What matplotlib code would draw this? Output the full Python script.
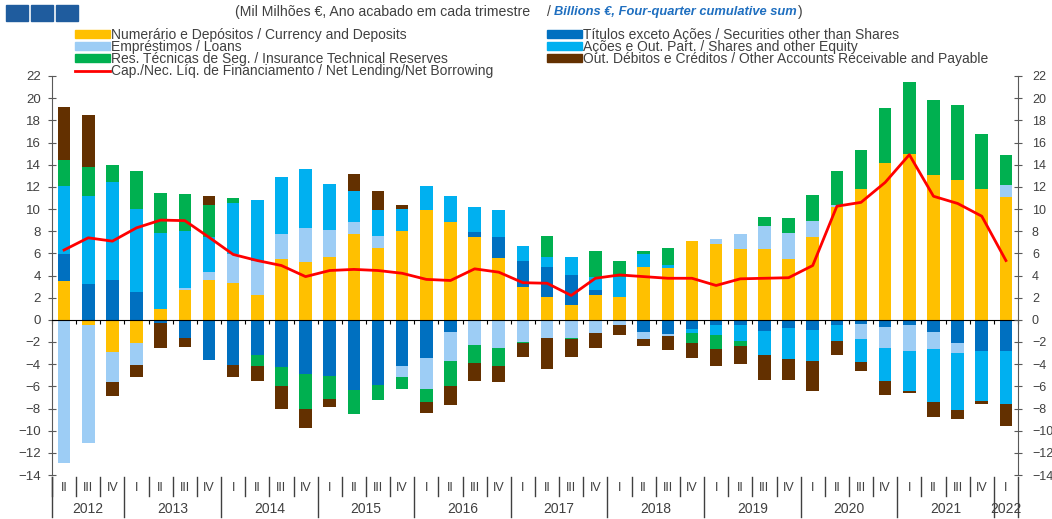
import numpy as np
import matplotlib.pyplot as plt
import matplotlib.transforms as mtransforms
from matplotlib.patches import Rectangle, Patch
from matplotlib.lines import Line2D

plt.rcParams['font.family'] = ['Liberation Sans', 'DejaVu Sans']

# quarters 2012 II .. 2022 I
quarters = ['II', 'III', 'IV'] + ['I', 'II', 'III', 'IV'] * 9 + ['I']
years = ['2012', '2013', '2014', '2015', '2016', '2017', '2018', '2019', '2020', '2021', '2022']

currency = [3.5, -0.45, -2.9, -2.1, 1.0, 2.7, 3.55, 3.3, 2.25, 5.5,
            5.25, 5.7, 7.75, 6.5, 8.05, 9.95, 8.8, 7.45, 5.55, 3.0,
            2.1, 1.3, 2.2, 2.05, 4.75, 4.65, 7.1, 6.8, 6.4, 6.4,
            5.5, 7.45, 10.15, 11.8, 14.15, 15.0, 13.1, 12.6, 11.8, 11.1]
securities = [2.4, 3.2, 3.55, 2.5, -0.25, -1.65, -3.6, -4.1, -3.15, -4.3,
              -4.9, -5.05, -6.3, -5.9, -4.2, -3.45, -1.1, 0.45, 1.9, 2.35,
              2.7, 2.75, 0.5, 0.0, -1.1, -1.3, -0.85, -0.45, -0.45, -1.05,
              -0.7, -0.95, -0.45, -0.4, -0.65, -0.5, -1.1, -2.05, -2.8, -2.8]
loans = [-12.9, -10.7, -2.75, -2.0, 0.0, 0.2, 0.75, 2.6, 3.05, 2.2,
         3.05, 2.45, 1.05, 1.05, -1.0, -2.75, -2.65, -2.3, -2.55, -2.0,
         -1.6, -1.65, -1.2, -0.45, -0.6, -0.15, 0.0, 0.45, 1.3, 2.1,
         2.35, 1.5, 0.25, -1.3, -1.85, -2.35, -1.5, -0.95, -0.05, 1.05]
shares = [6.15, 7.95, 8.9, 7.5, 6.85, 5.1, 3.2, 4.6, 5.55, 5.2,
          5.35, 4.1, 2.8, 2.4, 1.95, 2.1, 2.35, 2.25, 2.45, 1.35,
          0.85, 1.6, 1.15, 1.8, 1.2, 0.3, -0.35, -0.95, -1.5, -2.1,
          -2.8, -2.8, -1.5, -2.1, -3.0, -3.55, -4.85, -5.15, -4.45, -4.8]
insurance = [2.35, 2.65, 1.5, 3.45, 3.6, 3.35, 2.85, 0.5, -1.05, -1.65,
             -3.1, -2.1, -2.2, -1.3, -1.05, -1.2, -2.2, -1.6, -1.65, -0.1,
             1.95, -0.1, 2.4, 1.5, 0.3, 1.5, -0.85, -1.2, -0.4, 0.75,
             1.35, 2.35, 3.0, 3.55, 4.95, 6.45, 6.7, 6.75, 5.0, 2.75]
other = [4.8, 4.65, -1.25, -1.1, -2.25, -0.8, 0.8, -1.1, -1.3, -2.1,
         -1.75, -0.75, 1.55, 1.65, 0.4, -1.0, -1.75, -1.6, -1.45, -1.25,
         -2.8, -1.6, -1.35, -0.9, -0.7, -1.3, -1.35, -1.55, -1.65, -2.25,
         -1.9, -2.65, -1.2, -0.85, -1.3, -0.2, -1.35, -0.8, -0.3, -2.0]
net_lending = [6.3, 7.4, 7.1, 8.3, 9.0, 8.95, 7.45, 5.9, 5.35, 4.9,
               3.9, 4.45, 4.55, 4.45, 4.2, 3.65, 3.55, 4.6, 4.3, 3.35,
               3.3, 2.2, 3.75, 4.05, 3.9, 3.75, 3.75, 3.1, 3.7, 3.75,
               3.8, 4.9, 10.25, 10.6, 12.4, 14.9, 11.15, 10.5, 9.35, 5.35]

labels = {
    'cur': 'Numerário e Depósitos / Currency and Deposits',
    'sec': 'Títulos exceto Ações / Securities other than Shares',
    'loa': 'Empréstimos / Loans',
    'sha': 'Ações e Out. Part. / Shares and other Equity',
    'ins': 'Res. Técnicas de Seg. / Insurance Technical Reserves',
    'oth': 'Out. Débitos e Créditos / Other Accounts Receivable and Payable',
    'net': 'Cap./Nec. Líq. de Financiamento / Net Lending/Net Borrowing',
}
colors = {
    'cur': '#FFC000', 'sec': '#0070C0', 'loa': '#9DCDF5',
    'sha': '#00B0F0', 'ins': '#00B050', 'oth': '#633000', 'net': '#FF0000',
}
text_col = '#404040'
axis_col = '#595959'

fig = plt.figure(figsize=(10.52, 5.19), dpi=100)
ax = fig.add_axes([52 / 1052, 1 - 475 / 519, 966 / 1052, 399 / 519])

x = np.arange(len(quarters))
width = 0.52
pos_base = np.zeros(len(x))
neg_base = np.zeros(len(x))
stack = [('cur', currency), ('sec', securities), ('loa', loans),
         ('sha', shares), ('ins', insurance), ('oth', other)]
for key, vals in stack:
    v = np.array(vals)
    pos = np.where(v > 0, v, 0)
    neg = np.where(v < 0, v, 0)
    ax.bar(x, pos, width, bottom=pos_base, color=colors[key], linewidth=0)
    ax.bar(x, neg, width, bottom=neg_base, color=colors[key], linewidth=0)
    pos_base += pos
    neg_base += neg

ax.plot(x, net_lending, color=colors['net'], lw=2, zorder=3)

ax.set_xlim(-0.5, len(x) - 0.5)
ax.set_ylim(-14, 22)
ax.set_yticks(range(-14, 23, 2))
ax.set_xticks(np.arange(-0.5, len(x), 1))
ax.set_xticklabels([])
ax.spines['top'].set_visible(False)
ax.spines['right'].set_visible(False)
ax.spines['bottom'].set_position(('data', 0))
ax.spines['bottom'].set_color('black')
ax.spines['left'].set_color(axis_col)
ax.tick_params(axis='y', direction='inout', length=6, labelsize=9.5,
               labelcolor=text_col, color=axis_col, pad=5)
ax.tick_params(axis='x', direction='out', length=3, color='black')

# right-hand axis mirrors the left one
ax2 = ax.twinx()
ax2.set_ylim(ax.get_ylim())
ax2.set_yticks(range(-14, 23, 2))
for s in ['top', 'left', 'bottom']:
    ax2.spines[s].set_visible(False)
ax2.spines['right'].set_color(axis_col)
ax2.tick_params(axis='y', direction='inout', length=6, labelsize=9,
                labelcolor=text_col, color=axis_col, pad=7)

# quarter / year labels below the axes
trans = mtransforms.blended_transform_factory(ax.transData, ax.transAxes)
for i, q in enumerate(quarters):
    ax.text(i, -0.033, q, transform=trans, ha='center', va='center',
            fontsize=9, color=text_col)
    long_line = (q == 'I')
    ax.plot([i - 0.5, i - 0.5], [-0.005, -0.105 if long_line else -0.052],
            transform=trans, color=text_col, lw=1, clip_on=False)
for edge in [-0.5, len(x) - 0.5]:
    ax.plot([edge, edge], [-0.005, -0.105], transform=trans,
            color=text_col, lw=1, clip_on=False)
year_idx = np.cumsum([0] + [1 if q == 'I' else 0 for q in quarters[1:]])
for k, yr in enumerate(years):
    centre = x[year_idx == k].mean()
    ax.text(centre, -0.085, yr, transform=trans, ha='center', va='center',
            fontsize=10, color=text_col)

# header squares and title
for left in [6, 31, 56]:
    fig.patches.append(Rectangle((left / 1052, 1 - 21 / 519), 22 / 1052, 16 / 519,
                                 transform=fig.transFigure, color='#1F5C9E'))
ty = 1 - 12 / 519
t1 = fig.text(235 / 1052, ty, '(Mil Milhões €, Ano acabado em cada trimestre',
              fontsize=10.2, color=text_col, va='center')
fig.canvas.draw()
r = fig.canvas.get_renderer()
W = fig.bbox.width
x_end = t1.get_window_extent(r).x1
t_sl = fig.text((x_end + 17) / W, ty, '/', fontsize=10, color=text_col, va='center')
x_end = t_sl.get_window_extent(r).x1
t2 = fig.text((x_end + 3) / W, ty, 'Billions €, Four-quarter cumulative sum',
              fontsize=9.3, color='#1F6FC0', fontweight='bold', style='italic',
              va='center')
x_end = t2.get_window_extent(r).x1
fig.text((x_end + 1) / W, ty, ')', fontsize=10, color=text_col, va='center')

# legends
def handle(key):
    if key == 'net':
        return Line2D([], [], color=colors[key], lw=2)
    return Patch(color=colors[key])

leg_kw = dict(frameon=False, fontsize=10, borderpad=0, borderaxespad=0,
              handlelength=2.5, handleheight=0.5, handletextpad=0.1,
              labelspacing=-0.12, loc='upper left', labelcolor=text_col)
keys1 = ['cur', 'loa', 'ins', 'net']
keys2 = ['sec', 'sha', 'oth']
fig.legend([handle(k) for k in keys1], [labels[k] for k in keys1],
           bbox_to_anchor=(75 / 1052, 1 - 27.5 / 519), **leg_kw)
fig.legend([handle(k) for k in keys2], [labels[k] for k in keys2],
           bbox_to_anchor=(547 / 1052, 1 - 27.5 / 519), **leg_kw)

fig.savefig('out.png', dpi=100)
